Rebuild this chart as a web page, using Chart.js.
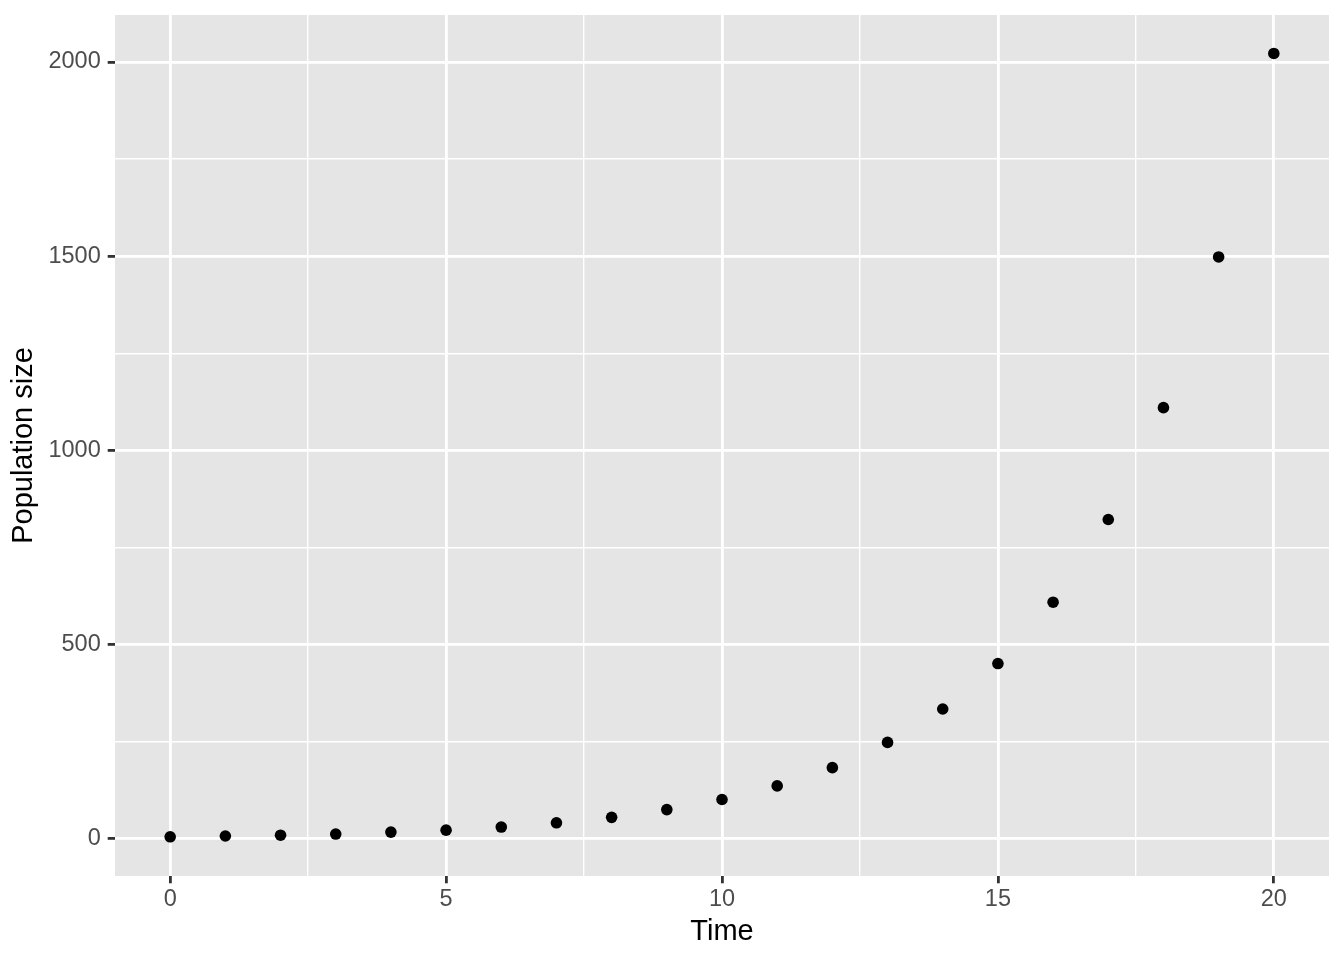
<!DOCTYPE html>
<html>
<head>
<meta charset="utf-8">
<title>Population size over time</title>
<script src="https://cdn.jsdelivr.net/npm/chart.js@4.4.1/dist/chart.umd.min.js"></script>
<style>
  html, body { margin: 0; padding: 0; background: #fff; }
  canvas { display: block; }
</style>
</head>
<body>
<canvas id="chart" width="1344" height="960"></canvas>
<script>
// values
const time = [0, 1, 2, 3, 4, 5, 6, 7, 8, 9, 10, 11, 12, 13, 14, 15, 16, 17, 18, 19, 20]
const population = [5, 7, 9, 12, 17, 22, 30, 41, 55, 75, 101, 136, 183, 248, 334, 451, 609, 822, 1110, 1498, 2022]

const xMajor = [0, 5, 10, 15, 20]
const xMinor = [2.5, 7.5, 12.5, 17.5]
const yMajor = [0, 500, 1000, 1500, 2000]
const yMinor = [250, 750, 1250, 1750]

const FONT = "'Liberation Sans', Arial, Helvetica, sans-serif"

// grey panel behind the grid, like ggplot's theme_grey
const panelBg = {
    id: 'panelBg',
    beforeDraw(chart) {
        const a = chart.chartArea
        const ctx = chart.ctx
        ctx.save()
        ctx.fillStyle = '#E5E5E5'
        ctx.fillRect(a.left, a.top, a.right - a.left, a.bottom - a.top)
        ctx.restore()
    }
}

function gridFor(major) {
    return {
        color: '#FFFFFF',
        lineWidth: c => major.includes(c.tick.value) ? 2.8 : 1.4,
        drawTicks: true,
        tickLength: 7.3,
        tickWidth: 2.8,
        tickColor: c => major.includes(c.tick.value) ? '#333333' : 'rgba(0,0,0,0)'
    }
}

const points = time.map((t, i) => ({ x: t, y: population[i] }))

new Chart(document.getElementById('chart'), {
    type: 'scatter',
    data: {
        datasets: [{
            label: 'Population size',
            data: points,
            backgroundColor: '#000000',
            borderWidth: 0,
            pointRadius: 5.8,
            pointHoverRadius: 5.8
        }]
    },
    options: {
        responsive: false,
        animation: false,
        devicePixelRatio: 1,
        layout: { padding: { top: 15, right: 15, left: 0, bottom: 0 } },
        plugins: {
            legend: { display: false },
            tooltip: { enabled: false }
        },
        scales: {
            x: {
                type: 'linear',
                min: -1,
                max: 21,
                border: { display: false },
                grid: gridFor(xMajor),
                afterBuildTicks: s => { s.ticks = xMajor.concat(xMinor).sort((a, b) => a - b).map(v => ({ value: v })) },
                afterFit: s => { s.height = 84; s.paddingLeft = 0; s.paddingRight = 0 },
                ticks: {
                    autoSkip: false,
                    maxRotation: 0,
                    padding: 2,
                    color: '#4D4D4D',
                    font: { family: FONT, size: 23.5 },
                    callback: v => xMajor.includes(v) ? String(v) : ''
                },
                title: {
                    display: true,
                    text: 'Time',
                    color: '#000000',
                    font: { family: FONT, size: 29 },
                    padding: { top: 0, bottom: 11 }
                }
            },
            y: {
                type: 'linear',
                min: -96,
                max: 2121,
                border: { display: false },
                grid: gridFor(yMajor),
                afterBuildTicks: s => { s.ticks = yMajor.concat(yMinor).sort((a, b) => a - b).map(v => ({ value: v })) },
                afterFit: s => { s.width = 115; s.paddingTop = 0; s.paddingBottom = 0 },
                ticks: {
                    autoSkip: false,
                    padding: 7,
                    color: '#4D4D4D',
                    font: { family: FONT, size: 23.5 },
                    callback: v => yMajor.includes(v) ? String(v) : ''
                },
                title: {
                    display: true,
                    text: 'Population size',
                    color: '#000000',
                    font: { family: FONT, size: 29 },
                    padding: { top: 7, bottom: 0 }
                }
            }
        }
    },
    plugins: [panelBg]
})
</script>
</body>
</html>
